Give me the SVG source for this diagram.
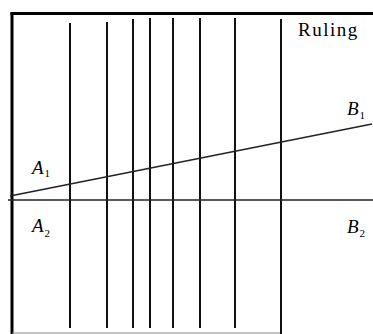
<svg xmlns="http://www.w3.org/2000/svg" width="373" height="334" viewBox="0 0 373 334">
<style>
.frame{stroke:#000;fill:none}
.rule{stroke:#111;stroke-width:2;fill:none}
.ln{stroke:#222;stroke-width:1.5;fill:none}
text{font-family:"Liberation Serif","Times New Roman",serif;fill:#000}
.lab{font-style:italic;font-size:19px}
.sub{font-style:normal;font-size:11px}
</style>
<rect width="373" height="334" fill="#fff"/>
<g id="frame">
<line class="frame" x1="10.5" y1="13.5" x2="373" y2="13.5" stroke-width="3"/>
<line class="frame" x1="12" y1="12" x2="12" y2="334" stroke-width="3"/>
<line x1="12" y1="333" x2="281" y2="333" stroke="#888" stroke-width="1"/>
</g>
<g id="rulings">
<line class="rule" x1="70" y1="23" x2="70" y2="328"/>
<line class="rule" x1="107" y1="22" x2="107" y2="328"/>
<line class="rule" x1="133" y1="19" x2="133" y2="328"/>
<line class="rule" x1="150" y1="18" x2="150" y2="328"/>
<line class="rule" x1="173" y1="18" x2="173" y2="328"/>
<line class="rule" x1="200" y1="18" x2="200" y2="328"/>
<line class="rule" x1="235" y1="18" x2="235" y2="328"/>
<line class="rule" x1="281" y1="19" x2="281" y2="334"/>
</g>
<g id="connectors">
<line class="ln" x1="10" y1="196" x2="372" y2="124"/>
<line class="ln" x1="8" y1="200" x2="373" y2="200"/>
</g>
<g id="labels">
<text x="298" y="36" font-size="19" letter-spacing="1.5">Ruling</text>
<text class="lab" x="32" y="174">A<tspan class="sub" dx="1" dy="3">1</tspan></text>
<text class="lab" x="32" y="232">A<tspan class="sub" dx="1" dy="5">2</tspan></text>
<text class="lab" x="347" y="115">B<tspan class="sub" dx="1" dy="4">1</tspan></text>
<text class="lab" x="347" y="233">B<tspan class="sub" dx="1" dy="4">2</tspan></text>
</g>
</svg>
